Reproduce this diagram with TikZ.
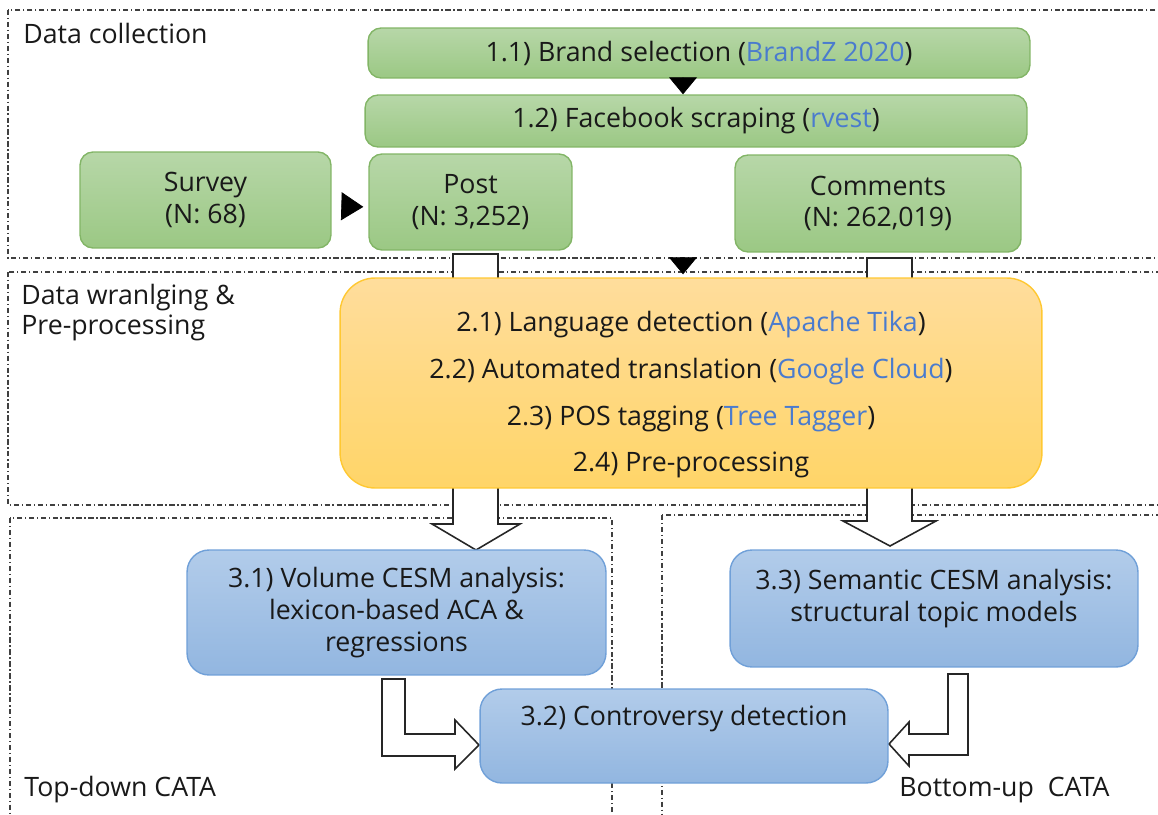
\documentclass[tikz,border=0pt]{standalone}
\usepackage{fontspec}
\setmainfont{Open Sans}
\usetikzlibrary{arrows.meta}
\definecolor{greentop}{RGB}{183,215,168}
\definecolor{greenbot}{RGB}{155,200,132}
\definecolor{greenline}{RGB}{130,181,102}
\definecolor{orangetop}{RGB}{255,221,156}
\definecolor{orangebot}{RGB}{255,213,104}
\definecolor{orangeline}{RGB}{255,200,50}
\definecolor{bluetop}{RGB}{178,204,234}
\definecolor{bluebot}{RGB}{146,182,224}
\definecolor{blueline}{RGB}{112,160,216}
\definecolor{toolblue}{RGB}{74,123,206}
\newcommand{\tool}[1]{\textcolor{toolblue}{#1}}
\begin{document}
\begin{tikzpicture}[x=0.02cm,y=-0.02cm]
  \tikzstyle{box}=[align=center,inner sep=0pt,line width=0.8pt,text=black!90,font=\fontsize{15.2}{18}\selectfont]
  \tikzstyle{collectbox}=[box,rounded corners=0.26cm,draw=greenline,top color=greentop,bottom color=greenbot]
  \tikzstyle{prepbox}=[box,rounded corners=0.7cm,draw=orangeline,top color=orangetop,bottom color=orangebot,font=\fontsize{15.2}{26.6}\selectfont]
  \tikzstyle{cesmbox}=[box,rounded corners=0.44cm,draw=blueline,top color=bluetop,bottom color=bluebot]
  \tikzstyle{frame}=[draw=black!75,line width=0.6pt,dash pattern=on 3pt off 1.5pt on 0.8pt off 1.5pt]
  \tikzstyle{hollow}=[draw=black!85,fill=white,line width=0.9pt,line join=miter]
  \tikzstyle{tip}=[-{Triangle[length=0.34cm,width=0.56cm]},black]
  \tikzstyle{label}=[anchor=west,inner sep=0pt,text=black!90,font=\fontsize{15.2}{17}\selectfont,align=left]
  \useasboundingbox (0,0) rectangle (1158,814);
  \clip (0,0) rectangle (1158,814);
  % stages
  \draw[frame] (8,10) rectangle (1170,258);
  \draw[frame] (8,272) rectangle (1170,505);
  \draw[frame] (10,518) rectangle (612,830);
  \draw[frame] (662,515) rectangle (1170,830);
  \node[label] (collectlabel) at (23,33) {Data collection};
  \node[label,anchor=north west] (wranglelabel) at (21,284) {Data wranlging \&\\Pre-processing};
  \node[label] (topdownlabel) at (24,790) {Top-down CATA};
  \node[label] (bottomuplabel) at (899,790) {Bottom-up~ CATA};
  % block arrows
  \draw[hollow] (453,254) -- (498,254) -- (498,524) -- (520,524) -- (476,550) -- (432,524) -- (453,524) -- cycle;
  \draw[hollow] (867,258) -- (912,258) -- (912,521) -- (936,521) -- (890,546) -- (843,521) -- (867,521) -- cycle;
  \draw[hollow] (382,679) -- (405,679) -- (405,734) -- (455,734) -- (455,720) -- (479,745) -- (455,769) -- (455,756) -- (382,756) -- cycle;
  \draw[hollow] (948,674) -- (968,674) -- (968,755) -- (909,755) -- (909,766) -- (889,744) -- (909,722) -- (909,734) -- (948,734) -- cycle;
  % data collection
  \node[collectbox,minimum width=13.24cm,minimum height=1cm] (brand) at (699,53) {1.1) Brand selection (\tool{BrandZ 2020})};
  \node[collectbox,minimum width=13.24cm,minimum height=1.04cm] (scrape) at (696,121) {1.2) Facebook scraping (\tool{rvest})};
  \node[collectbox,minimum width=5.02cm,minimum height=1.92cm] (survey) at (205.5,200) {Survey\\(N: 68)};
  \node[collectbox,minimum width=4.06cm,minimum height=1.92cm] (post) at (470.5,202) {Post\\(N: 3,252)};
  \node[collectbox,minimum width=5.72cm,minimum height=1.94cm] (comments) at (878,203.5) {Comments\\(N: 262,019)};
  % wrangling
  \node[prepbox,minimum width=14.04cm,minimum height=4.2cm] (prep) at (691,383) {\rule{0pt}{25pt}2.1) Language detection (\tool{Apache Tika})\\2.2) Automated translation (\tool{Google Cloud})\\2.3) POS tagging (\tool{Tree Tagger})\\2.4) Pre-processing};
  % analysis
  \node[cesmbox,minimum width=8.38cm,minimum height=2.5cm] (volume) at (396.5,612.5) {3.1) Volume CESM analysis:\\lexicon-based ACA \&\\regressions};
  \node[cesmbox,minimum width=8.16cm,minimum height=2.34cm] (semantic) at (934,608.5) {3.3) Semantic CESM analysis:\\structural topic models\rule[-15pt]{0pt}{0pt}};
  \node[cesmbox,minimum width=8.16cm,minimum height=1.88cm] (contro) at (684,736) {3.2) Controversy detection\\\strut};
  % heads
  \coordinate (merge) at (683,258);
  \draw[tip] ([xshift=-0.32cm]brand.south) -- ([xshift=-0.26cm]scrape.north);
  \draw[-{Triangle[length=0.44cm,width=0.56cm]},shorten <=0.22cm,shorten >=0.1cm] ([yshift=-0.12cm]survey.east) -- ([yshift=-0.1cm]post.west);
  \draw[tip,shorten >=0.06cm] (merge) -- ([xshift=-0.16cm]prep.north);
\end{tikzpicture}
\end{document}
